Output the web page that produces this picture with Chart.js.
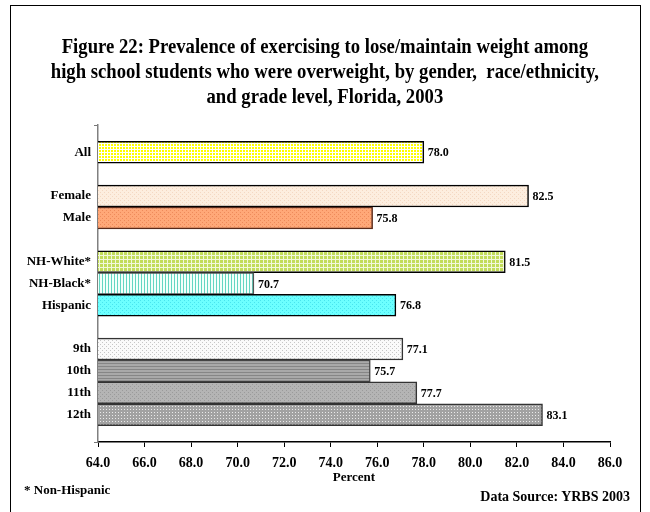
<!DOCTYPE html>
<html>
<head>
<meta charset="utf-8">
<script src="https://cdn.jsdelivr.net/npm/chart.js@4"></script>
<style>
  body { margin: 0; background: #fff; }
  #wrap { position: relative; width: 650px; height: 512px; overflow: hidden; }
  #frame { position: absolute; left: 10px; top: 5px; width: 631px; height: 560px; border: 1.5px solid #000; box-sizing: border-box; }
  #title { position: absolute; left: 0; top: 34px; width: 650px; text-align: center; white-space: pre;
           font: bold 21px "Liberation Serif", serif; line-height: 25px; color: #000;
           transform: scaleX(0.89); transform-origin: 324px 0; }
  .note { position: absolute; font: bold 13px "Liberation Serif", serif; color: #000; white-space: pre; }
  canvas { position: absolute; left: 0; top: 0; }
</style>
</head>
<body>
<div id="wrap">
  <div id="frame"></div>
  <canvas id="chart" width="650" height="512"></canvas>
  <div id="title">Figure 22: Prevalence of exercising to lose/maintain weight among
high school students who were overweight, by gender,  race/ethnicity,
and grade level, Florida, 2003</div>
  <div class="note" style="left:24px; top:482px;">* Non-Hispanic</div>
  <div class="note" style="right:20px; top:489px; font-size:14px;">Data Source: YRBS 2003</div>
</div>
<script>
// rows top to bottom, blank strings are the gaps between groups
const categories = ['All', '', 'Female', 'Male', '', 'NH-White*', 'NH-Black*', 'Hispanic', '', '9th', '10th', '11th', '12th'];
const values = [78.0, null, 82.5, 75.8, null, 81.5, 70.7, 76.8, null, 77.1, 75.7, 77.7, 83.1];
const percentTicks = [64, 66, 68, 70, 72, 74, 76, 78, 80, 82, 84, 86];

// small tiled fills, one per row
function tile(size, bg, fg, cells) {
  const c = document.createElement('canvas');
  c.width = size; c.height = size;
  const g = c.getContext('2d');
  g.fillStyle = bg; g.fillRect(0, 0, size, size);
  g.fillStyle = fg;
  cells.forEach(r => g.fillRect(r[0], r[1], r[2], r[3]));
  return document.getElementById('chart').getContext('2d').createPattern(c, 'repeat');
}
const dots = [[0, 0, 1, 1], [2, 2, 1, 1]];
const fills = {
  'All':       [tile(3, '#FFFF00', '#FFFFFF', [[2, 0, 1, 3], [0, 2, 3, 1]]), '#000000'],
  'Female':    [tile(4, '#FDEEDF', '#F4D8C2', dots), '#000000'],
  'Male':      [tile(4, '#FFA878', '#EE8A5A', dots), '#5A2A1A'],
  'NH-White*': [tile(4, '#C2DC5A', '#F2F8DA', [[3, 0, 1, 4], [0, 3, 4, 1]]), '#000000'],
  'NH-Black*': [tile(3, '#F2FFFB', '#62D6C2', [[0, 0, 1, 3]]), '#555555'],
  'Hispanic':  [tile(4, '#6CFFFF', '#48E4EE', dots), '#000000'],
  '9th':       [tile(4, '#FAFAFA', '#C6C6C6', dots), '#333333'],
  '10th':      [tile(3, '#A9A9A9', '#868686', [[0, 0, 3, 1]]), '#444444'],
  '11th':      [tile(4, '#B4B4B4', '#9A9A9A', dots), '#333333'],
  '12th':      [tile(3, '#A2A2A2', '#EAEAEA', [[1, 1, 1, 1]]), '#333333']
};

const rows = [];
values.forEach((v, i) => { if (v !== null) rows.push({ x: v, y: i, name: categories[i] }); });

const valueLabels = {
  id: 'valueLabels',
  afterDatasetsDraw(chart) {
    const ctx = chart.ctx;
    const meta = chart.getDatasetMeta(0);
    ctx.save();
    ctx.font = 'bold 12px "Liberation Serif", serif';
    ctx.fillStyle = '#000';
    ctx.textBaseline = 'middle';
    meta.data.forEach((bar, i) => {
      ctx.fillText(rows[i].x.toFixed(1), bar.x + 4, bar.y + 1);
    });
    ctx.restore();
  }
};

new Chart(document.getElementById('chart'), {
  type: 'bar',
  data: {
    datasets: [{
      data: rows,
      backgroundColor: rows.map(r => fills[r.name][0]),
      borderColor: rows.map(r => fills[r.name][1]),
      borderWidth: 1.5,
      categoryPercentage: 1,
      barPercentage: 1
    }]
  },
  options: {
    indexAxis: 'y',
    responsive: false,
    animation: false,
    layout: { padding: { left: 10, right: 40, top: 125, bottom: 2 } },
    plugins: { legend: { display: false }, tooltip: { enabled: false }, title: { display: false } },
    scales: {
      x: {
        type: 'linear',
        min: 64, max: 86,
        afterBuildTicks: s => { s.ticks = percentTicks.map(v => ({ value: v })); },
        afterFit: s => { s.height = 68; },
        grid: { drawOnChartArea: false, tickLength: 5, color: '#000' },
        border: { color: '#000', width: 1.5 },
        ticks: {
          padding: 8, color: '#000',
          font: { family: '"Liberation Serif", serif', size: 14, weight: 'bold' },
          callback: v => v.toFixed(1)
        },
        title: {
          display: true, text: 'Percent', color: '#000',
          font: { family: '"Liberation Serif", serif', size: 13, weight: 'bold' },
          padding: { top: 0, bottom: 25 }
        }
      },
      y: {
        type: 'linear',
        reverse: true,
        offset: false,
        min: -1.25, max: 13.25,
        afterBuildTicks: s => {
          const t = [-1.25];
          categories.forEach((c, i) => { if (c) t.push(i); });
          t.push(13.25);
          s.ticks = t.map(v => ({ value: v }));
        },
        afterFit: s => { s.width = 88; },
        grid: {
          offset: false, drawOnChartArea: false, tickLength: 4,
          color: c => (c.tick && (c.tick.value < 0 || c.tick.value > 13)) ? '#777' : 'rgba(0,0,0,0)'
        },
        border: { color: '#808080', width: 1.5 },
        ticks: {
          autoSkip: false, padding: 3, color: '#000',
          font: { family: '"Liberation Serif", serif', size: 13, weight: 'bold' },
          callback: v => categories[v] || ''
        }
      }
    }
  },
  plugins: [valueLabels]
});
</script>
</body>
</html>
